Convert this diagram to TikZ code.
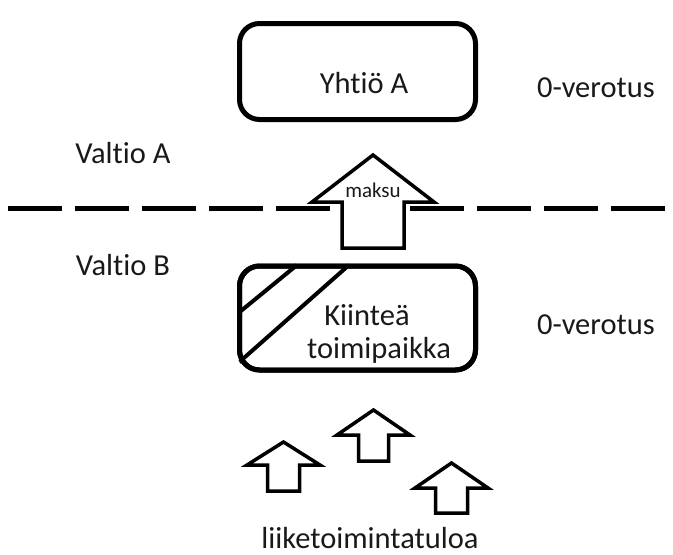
\documentclass[tikz,border=0pt]{standalone}
\usepackage{fontspec}
\setmainfont{Carlito}[Ligatures={NoCommon}]
\begin{document}
\begin{tikzpicture}[x=1pt,y=-1pt,
  boxstyle/.style={draw=black,line width=5pt,rounded corners=20pt,fill=white,inner sep=0pt},
  txt/.style={font=\fontsize{30.5}{36}\selectfont,text=black!90,inner sep=0pt,anchor=base},
  smalltxt/.style={font=\fontsize{21}{25}\selectfont,text=black!90,inner sep=0pt,anchor=base},
  arrowline/.style={draw=black,line width=3.5pt,fill=white,line join=miter},
  pics/blockup/.style n args={4}{code={
    \path[arrowline] (0,0) -- (#1,#3) -- (#2,#3) -- (#2,#4) -- (-#2,#4) -- (-#2,#3) -- (-#1,#3) -- cycle;
  }}]
\useasboundingbox (0,0) rectangle (673,555);
% border dashed line
\coordinate (dl) at (8,208);
\coordinate (dr) at (673,208);
\draw[line width=5pt,dash pattern=on 54pt off 13pt] (dl) -- (dr);
% boxes
\node[boxstyle,minimum width=236pt,minimum height=96pt] (yh) at (357.5,71.5) {};
\node[boxstyle,minimum width=236pt,minimum height=104pt] (kt) at (357.5,318) {};
% hatch
\begin{scope}
\clip[rounded corners=20pt] (kt.north west) rectangle (kt.south east);
\draw[line width=4pt] (297,265) -- (236,315);
\draw[line width=4pt] (349,265) -- (236,365);
\end{scope}
\node[boxstyle,fill=none,minimum width=236pt,minimum height=104pt] (ktb) at (357.5,318) {};
% arrows
\pic at (373,155) {blockup={61}{31}{47}{93}};
\pic at (283.5,442) {blockup={36.5}{16}{23}{49}};
\pic at (373.5,410) {blockup={36.5}{15}{25}{51}};
\pic at (451.5,463) {blockup={36.5}{16}{25}{50}};
% texts
\node[txt] (tyh) at (364,93) {Yhtiö A};
\node[txt] (tv1) at (596,97) {0-verotus};
\node[txt] (tva) at (123,163) {Valtio A};
\node[txt] (tvb) at (123,275) {Valtio B};
\node[smalltxt] (tmk) at (373,197) {maksu};
\node[txt] (tk1) at (367,325) {Kiinteä};
\node[txt] (tk2) at (379,358) {toimipaikka};
\node[txt] (tv2) at (596,334) {0-verotus};
\node[txt] (tli) at (370,548) {liiketoimintatuloa};
\end{tikzpicture}
\end{document}
